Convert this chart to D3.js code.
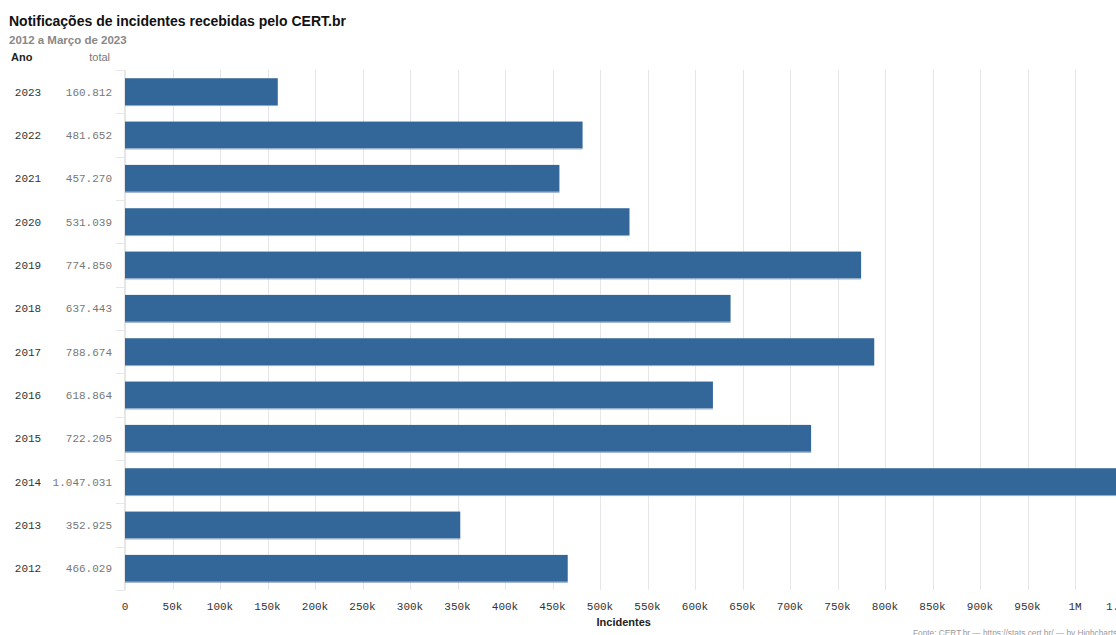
<!DOCTYPE html>
<html><head><meta charset="utf-8">
<script src="https://cdn.jsdelivr.net/npm/d3@7"></script>
<style>
html,body{margin:0;padding:0;overflow:hidden;background:#fff;width:1116px;height:635px;}
</style></head>
<body><div id="chart"></div>
<script>
const years = ["2023","2022","2021","2020","2019","2018","2017","2016","2015","2014","2013","2012"];
const totals = [160812,481652,457270,531039,774850,637443,788674,618864,722205,1047031,352925,466029];
const xTicks = [0,50000,100000,150000,200000,250000,300000,350000,400000,450000,500000,550000,600000,650000,700000,750000,800000,850000,900000,950000,1000000,1050000];

const W = 1160, H = 635;
const svg = d3.select("#chart").append("svg").attr("width", W).attr("height", H)
  .style("font-family","'Liberation Sans', Arial, sans-serif");

const pL = 125, pR = 1122.5, pT = 70, pB = 590;
const x = d3.scaleLinear().domain([0,1050000]).range([pL,pR]);
const y = d3.scaleBand().domain(years).range([pT,pB]).paddingInner(0.38).paddingOuter(0.19);
const yb = d3.scaleBand().domain(years).range([pT,pB]);

// gridlines
svg.append("g").selectAll("line").data(xTicks).join("line")
  .attr("x1", d=>Math.round(x(d))+0.5).attr("x2", d=>Math.round(x(d))+0.5).attr("y1", pT).attr("y2", pB)
  .attr("stroke", "#e6e6e6").attr("stroke-width",1);

// category axis line + ticks
svg.append("line").attr("x1", pL-0.5).attr("x2", pL-0.5).attr("y1", pT).attr("y2", pB)
  .attr("stroke","#e6e6e6");
const bounds = years.map(d=>yb(d)).concat([pB]);
svg.append("g").selectAll("line").data(bounds).join("line")
  .attr("x1", pL-9).attr("x2", pL).attr("y1", d=>Math.round(d)+0.5).attr("y2", d=>Math.round(d)+0.5)
  .attr("stroke","#e6e6e6");

// bars
svg.append("g").selectAll("rect").data(years).join("rect")
  .attr("x", pL).attr("y", d=>y(d)).attr("width", (d,i)=>x(totals[i])-pL).attr("height", y.bandwidth())
  .attr("fill", "#336699");
svg.append("g").selectAll("line").data(years).join("line")
  .attr("x1", pL).attr("x2", (d,i)=>x(totals[i])).attr("y1", d=>y(d)+y.bandwidth()+0.5).attr("y2", d=>y(d)+y.bandwidth()+0.5)
  .attr("stroke","#8aa6c4").attr("stroke-width",1);

// year labels
const fmt = v => d3.format(",")(v).replace(/,/g,".");
svg.append("g").selectAll("text").data(years).join("text")
  .attr("x", 28).attr("y", d=>yb(d)+yb.bandwidth()/2+4).attr("text-anchor","middle")
  .style("font-family","'Liberation Mono', monospace").style("font-size","11px").attr("fill","#333")
  .text(d=>d);
svg.append("g").selectAll("text").data(years).join("text")
  .attr("x", 112).attr("y", d=>yb(d)+yb.bandwidth()/2+4).attr("text-anchor","end")
  .style("font-family","'Liberation Mono', monospace").style("font-size","11px").attr("fill","#777")
  .text((d,i)=>fmt(totals[i]));

// x tick labels
const tf = v => v===0 ? "0" : v>=1000000 ? (d3.format(".3~f")(v/1e6)+"M") : (v/1000)+"k";
svg.append("g").selectAll("text").data(xTicks).join("text")
  .attr("x", d=>x(d)).attr("y", 610).attr("text-anchor","middle")
  .style("font-family","'Liberation Mono', monospace").style("font-size","11px").attr("fill","#333")
  .text(tf);

// titles
svg.append("text").attr("x",9).attr("y",26).style("font-size","14px").style("font-weight","bold").attr("fill","#111")
  .text("Notificações de incidentes recebidas pelo CERT.br");
svg.append("text").attr("x",9).attr("y",44).style("font-size","11.5px").style("font-weight","bold").attr("fill","#888")
  .text("2012 a Março de 2023");
svg.append("text").attr("x",11).attr("y",61).style("font-size","11px").style("font-weight","bold").attr("fill","#222")
  .text("Ano");
svg.append("text").attr("x",110).attr("y",61).attr("text-anchor","end").style("font-size","11px").attr("fill","#777")
  .text("total");
svg.append("text").attr("x",(pL+pR)/2).attr("y",626).attr("text-anchor","middle").style("font-size","11px").style("font-weight","bold").attr("fill","#222")
  .text("Incidentes");
svg.append("text").attr("x",913).attr("y",636).style("font-size","8.3px").attr("fill","#999")
  .text("Fonte: CERT.br — https://stats.cert.br/ — by Highcharts.com");
</script></body></html>
